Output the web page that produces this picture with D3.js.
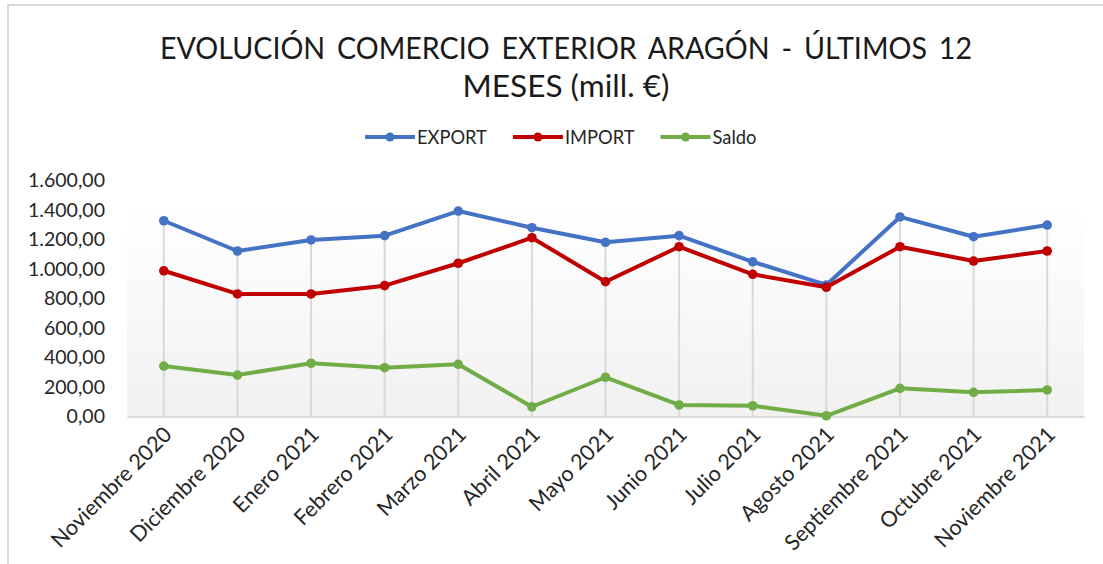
<!DOCTYPE html>
<html>
<head>
<meta charset="utf-8">
<script src="https://cdn.jsdelivr.net/npm/d3@7"></script>
<style>
  html, body { margin: 0; padding: 0; background: #ffffff; }
  svg { display: block; }
  text { font-family: Lato, "Open Sans", sans-serif; }
</style>
</head>
<body>
<svg id="chart" width="1103" height="564"></svg>
<script>
// ---- Data ----
const categories = ["Noviembre 2020", "Diciembre 2020", "Enero 2021", "Febrero 2021", "Marzo 2021", "Abril 2021", "Mayo 2021", "Junio 2021", "Julio 2021", "Agosto 2021", "Septiembre 2021", "Octubre 2021", "Noviembre 2021"];
const exportValues = [1327, 1122, 1197, 1226, 1393, 1280, 1181, 1226, 1049, 892, 1353, 1219, 1298];
const importValues = [988, 831, 831, 887, 1039, 1212, 914, 1151, 964, 876, 1151, 1054, 1122];
const saldoValues = [342, 281, 361, 331, 354, 66, 266, 78, 73, 5, 191, 164, 180];
const yTicks = [0, 200, 400, 600, 800, 1000, 1200, 1400, 1600];
const seriesNames = ["EXPORT", "IMPORT", "Saldo"];
const titleLines = ["EVOLUCIÓN COMERCIO EXTERIOR ARAGÓN - ÚLTIMOS 12", "MESES (mill. €)"];

const seriesColors = ["#4472C4", "#C00000", "#70AD47"];
const seriesData = [exportValues, importValues, saldoValues];

const svg = d3.select("#chart");

// chart border
svg.append("rect")
  .attr("x", 8).attr("y", 5).attr("width", 1200).attr("height", 700)
  .attr("fill", "#ffffff").attr("stroke", "#D9D9D9").attr("stroke-width", 2);

const plot = { left: 127, right: 1084, top: 180.5, bottom: 416.5 };

const x = d3.scaleBand().domain(categories).range([plot.left, plot.right]);
const cx = c => x(c) + x.bandwidth() / 2;
const y = d3.scaleLinear().domain([0, 1600]).range([plot.bottom, plot.top]);

// gradient background
const defs = svg.append("defs");
const grad = defs.append("linearGradient").attr("id", "bg").attr("x1", 0).attr("y1", 0).attr("x2", 0).attr("y2", 1);
grad.append("stop").attr("offset", "0%").attr("stop-color", "#ffffff");
grad.append("stop").attr("offset", "12%").attr("stop-color", "#ffffff");
grad.append("stop").attr("offset", "100%").attr("stop-color", "#F1F1F1");
svg.append("rect")
  .attr("x", plot.left).attr("y", plot.top)
  .attr("width", plot.right - plot.left).attr("height", plot.bottom - plot.top)
  .attr("fill", "url(#bg)");

function fitFont(sel, target, base) {
  sel.style("font-size", base + "px");
  const L = sel.node().getComputedTextLength();
  const s = base * target / L;
  sel.style("font-size", s + "px");
  return s;
}

// title
const t1 = svg.append("text").attr("x", 566).attr("y", 59).attr("text-anchor", "middle")
  .attr("fill", "#1a1a1a").style("word-spacing", "5px").text(titleLines[0]);
const t2 = svg.append("text").attr("x", 566).attr("y", 97).attr("text-anchor", "middle")
  .attr("fill", "#1a1a1a").text(titleLines[1]);
{
  const s = fitFont(t2, 207, 26);
  t1.style("font-size", s + "px")
    .attr("textLength", 812).attr("lengthAdjust", "spacingAndGlyphs");
}

// legend
const legend = svg.append("g");
let lx = 365;
const legendY = 137;
seriesNames.forEach((name, i) => {
  const g = legend.append("g");
  g.append("line").attr("x1", lx).attr("x2", lx + 50).attr("y1", legendY).attr("y2", legendY)
    .attr("stroke", seriesColors[i]).attr("stroke-width", 4);
  g.append("circle").attr("cx", lx + 25).attr("cy", legendY).attr("r", 4.5).attr("fill", seriesColors[i]);
  const t = g.append("text").attr("x", lx + 52).attr("y", legendY).attr("dy", "0.36em")
    .attr("fill", "#262626").text(name);
  if (i === 0) fitFont(t, 70, 18);
  else t.style("font-size", legend.select("text").style("font-size"));
  lx += 52 + t.node().getComputedTextLength() + 26;
});

// y axis labels
const fmt = d3.formatLocale({ decimal: ",", thousands: ".", grouping: [3], currency: ["", "€"] }).format(",.2f");
const yAxis = d3.axisLeft(y).tickValues(yTicks).tickFormat(fmt).tickSize(0).tickPadding(22);
const yg = svg.append("g").attr("transform", `translate(${plot.left},0)`).call(yAxis);
yg.select(".domain").remove();
yg.selectAll("text").attr("fill", "#262626").style("font-family", "Lato, sans-serif");
{
  const top = yg.selectAll("text").filter(d => d === 1600);
  const s = fitFont(top, 77, 18);
  yg.selectAll("text").style("font-size", s + "px");
}

// drop lines
const maxVals = categories.map((c, i) => d3.max(seriesData, s => s[i]));
svg.append("g").selectAll("line").data(categories).join("line")
  .attr("x1", d => cx(d)).attr("x2", d => cx(d))
  .attr("y1", (d, i) => y(maxVals[i])).attr("y2", y(0))
  .attr("stroke", "#D9D9D9").attr("stroke-width", 2);

// x axis
const xAxis = d3.axisBottom(x).tickSize(0).tickPadding(0);
const xg = svg.append("g").attr("transform", `translate(0,${plot.bottom})`).call(xAxis);
xg.select(".domain").attr("stroke", "#D9D9D9").attr("stroke-width", 2);
xg.selectAll("text")
  .attr("fill", "#262626")
  .style("font-family", "Lato, sans-serif")
  .attr("text-anchor", "end")
  .attr("dy", "0.35em")
  .attr("transform", "translate(4,14) rotate(-45)")
  .attr("x", 0).attr("y", 0);
{
  const first = xg.selectAll("text").filter(d => d === categories[0]);
  const s = fitFont(first, 160, 20);
  xg.selectAll("text").style("font-size", s + "px");
}

// series lines
seriesData.forEach((vals, si) => {
  const line = d3.line().x((d, i) => cx(categories[i])).y(d => y(d));
  svg.append("path").datum(vals).attr("d", line)
    .attr("fill", "none").attr("stroke", seriesColors[si]).attr("stroke-width", 4)
    .attr("stroke-linejoin", "round").attr("stroke-linecap", "round");
  svg.append("g").selectAll("circle").data(vals).join("circle")
    .attr("cx", (d, i) => cx(categories[i])).attr("cy", d => y(d))
    .attr("r", 4.8).attr("fill", seriesColors[si]);
});
</script>
</body>
</html>
